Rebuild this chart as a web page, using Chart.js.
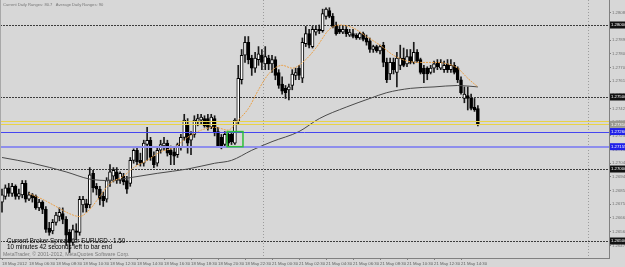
<!DOCTYPE html>
<html>
<head>
<meta charset="utf-8">
<script src="https://cdn.jsdelivr.net/npm/chart.js@4.4.1/dist/chart.umd.min.js"></script>
<style>
html, body { margin: 0; padding: 0; background: #d7d7d7; overflow: hidden; }
canvas { display: block; }
</style>
</head>
<body>
<canvas id="chart" width="625" height="267"></canvas>
<script>
// EURUSD M15, 18 May 2012 04:30 .. 21 May 2012 15:45
const opens = [1.2677,1.2681,1.2687,1.2683,1.2688,1.2681,1.2682,1.2690,1.2679,1.2682,
  1.2681,1.2673,1.2677,1.2672,1.2659,1.2657,1.2663,1.2667,1.2669,1.2665,
  1.2656,1.2649,1.2657,1.2656,1.2675,1.2676,1.2675,1.2697,1.2688,1.2686,
  1.2681,1.2679,1.2692,1.2695,1.2698,1.2692,1.2695,1.2692,1.2690,1.2706,
  1.2713,1.2706,1.2704,1.2717,1.2720,1.2709,1.2704,1.2713,1.2716,1.2718,
  1.2713,1.2712,1.2710,1.2715,1.2722,1.2731,1.2720,1.2724,1.2733,1.2734,
  1.2735,1.2735,1.2729,1.2735,1.2726,1.2722,1.2717,1.2724,1.2724,1.2718,
  1.2733,1.2762,1.2779,1.2788,1.2777,1.2770,1.2776,1.2779,1.2773,1.2777,
  1.2773,1.2776,1.2767,1.2759,1.2756,1.2755,1.2758,1.2765,1.2770,1.2763,
  1.2787,1.2794,1.2785,1.2795,1.2797,1.2796,1.2806,1.2810,1.2806,1.2800,
  1.2797,1.2795,1.2797,1.2793,1.2794,1.2793,1.2791,1.2794,1.2791,1.2789,
  1.2783,1.2785,1.2782,1.2786,1.2774,1.2766,1.2774,1.2767,1.2772,1.2777,
  1.2773,1.2778,1.2774,1.2781,1.2776,1.2770,1.2770,1.2767,1.2770,1.2774,
  1.2770,1.2769,1.2773,1.2769,1.2772,1.2770,1.2762,1.2749,1.2751,1.2749,
  1.2743,1.2742];
const highs = [1.2686,1.2689,1.2690,1.2690,1.2689,1.2686,1.2692,1.2692,1.2684,1.2683,
  1.2682,1.2679,1.2678,1.2674,1.2663,1.2665,1.2670,1.2673,1.2673,1.2667,
  1.2658,1.2661,1.2662,1.2681,1.2681,1.2679,1.2701,1.2699,1.2690,1.2688,
  1.2684,1.2694,1.2703,1.2701,1.2701,1.2698,1.2697,1.2695,1.2708,1.2714,
  1.2715,1.2711,1.2720,1.2729,1.2722,1.2712,1.2715,1.2720,1.2722,1.2720,
  1.2716,1.2715,1.2718,1.2724,1.2738,1.2735,1.2726,1.2737,1.2738,1.2738,
  1.2737,1.2738,1.2738,1.2737,1.2729,1.2724,1.2726,1.2726,1.2726,1.2735,
  1.2772,1.2783,1.2792,1.2792,1.2779,1.2781,1.2785,1.2783,1.2785,1.2779,
  1.2779,1.2778,1.2769,1.2764,1.2758,1.2759,1.2769,1.2770,1.2772,1.2791,
  1.2799,1.2797,1.2799,1.2799,1.2800,1.2811,1.2812,1.2812,1.2808,1.2802,
  1.2799,1.2799,1.2799,1.2797,1.2797,1.2794,1.2795,1.2795,1.2793,1.2791,
  1.2786,1.2786,1.2786,1.2788,1.2777,1.2777,1.2777,1.2781,1.2786,1.2784,
  1.2783,1.2783,1.2788,1.2783,1.2777,1.2772,1.2771,1.2772,1.2775,1.2776,
  1.2776,1.2775,1.2776,1.2776,1.2774,1.2771,1.2764,1.2757,1.2757,1.2752,
  1.2749,1.2744];
const lows = [1.2670,1.2679,1.2681,1.2681,1.2679,1.2679,1.2680,1.2677,1.2678,1.2677,
  1.2672,1.2671,1.2669,1.2656,1.2654,1.2655,1.2661,1.2664,1.2662,1.2647,
  1.2642,1.2647,1.2651,1.2654,1.2670,1.2670,1.2673,1.2684,1.2682,1.2675,
  1.2674,1.2677,1.2688,1.2691,1.2690,1.2690,1.2689,1.2683,1.2688,1.2704,
  1.2703,1.2702,1.2702,1.2706,1.2706,1.2701,1.2702,1.2711,1.2713,1.2709,
  1.2703,1.2703,1.2708,1.2713,1.2720,1.2711,1.2710,1.2722,1.2730,1.2731,
  1.2729,1.2727,1.2728,1.2723,1.2715,1.2714,1.2715,1.2716,1.2717,1.2717,
  1.2731,1.2759,1.2774,1.2773,1.2765,1.2767,1.2772,1.2769,1.2769,1.2769,
  1.2767,1.2762,1.2756,1.2752,1.2749,1.2748,1.2755,1.2762,1.2762,1.2760,
  1.2785,1.2784,1.2784,1.2793,1.2794,1.2795,1.2804,1.2805,1.2798,1.2793,
  1.2794,1.2794,1.2792,1.2792,1.2791,1.2790,1.2790,1.2789,1.2786,1.2781,
  1.2781,1.2781,1.2780,1.2771,1.2760,1.2762,1.2766,1.2757,1.2769,1.2771,
  1.2771,1.2773,1.2773,1.2774,1.2766,1.2760,1.2762,1.2766,1.2767,1.2769,
  1.2769,1.2767,1.2767,1.2767,1.2766,1.2760,1.2752,1.2746,1.2741,1.2741,
  1.2740,1.2730];
const closes = [1.2682,1.2687,1.2683,1.2688,1.2681,1.2683,1.2690,1.2679,1.2682,1.2680,
  1.2673,1.2677,1.2672,1.2658,1.2656,1.2663,1.2668,1.2670,1.2665,1.2654,
  1.2649,1.2658,1.2656,1.2679,1.2679,1.2673,1.2696,1.2687,1.2686,1.2679,
  1.2678,1.2692,1.2698,1.2699,1.2692,1.2697,1.2691,1.2686,1.2706,1.2713,
  1.2705,1.2704,1.2718,1.2720,1.2708,1.2703,1.2713,1.2717,1.2718,1.2711,
  1.2710,1.2709,1.2717,1.2722,1.2734,1.2718,1.2724,1.2734,1.2735,1.2736,
  1.2730,1.2729,1.2736,1.2725,1.2716,1.2715,1.2724,1.2718,1.2719,1.2734,
  1.2763,1.2779,1.2788,1.2776,1.2770,1.2777,1.2780,1.2774,1.2778,1.2773,
  1.2776,1.2765,1.2758,1.2754,1.2753,1.2757,1.2766,1.2767,1.2765,1.2788,
  1.2794,1.2786,1.2797,1.2797,1.2796,1.2808,1.2811,1.2806,1.2799,1.2794,
  1.2795,1.2797,1.2794,1.2795,1.2792,1.2791,1.2794,1.2790,1.2788,1.2783,
  1.2785,1.2782,1.2785,1.2774,1.2762,1.2774,1.2769,1.2777,1.2777,1.2772,
  1.2778,1.2774,1.2781,1.2775,1.2767,1.2766,1.2766,1.2770,1.2773,1.2771,
  1.2774,1.2772,1.2769,1.2772,1.2767,1.2762,1.2753,1.2752,1.2749,1.2742,
  1.2741,1.2731];

// moving averages, read at a few bars
const slowIdx = [0,9,19,26,32,38,46,55,63,68,74,80,88,94,102,109,114,121,128,135,141];
const slowVals = [1.2708,1.2704,1.2698,1.2693,1.2692,1.2694,1.2697,1.2700,1.2704,1.2706,
  1.2713,1.2719,1.2726,1.2735,1.2743,1.2749,1.2753,1.2756,1.2757,1.2758,1.2757];
const fastIdx = [8,12,16,20,23,26,29,32,36,39,43,47,51,55,59,63,67,70,73,76,79,83,86,90,93,
  97,100,104,108,112,116,120,124,128,132,135,138,141];
const fastVals = [1.2683,1.2679,1.2674,1.2669,1.2667,1.2672,1.2681,1.2690,1.2695,1.2701,
  1.2706,1.2712,1.2715,1.2722,1.2727,1.2729,1.2727,1.2734,1.2742,1.2755,1.2766,1.2772,
  1.2770,1.2776,1.2784,1.2797,1.2800,1.2798,1.2792,1.2786,1.2779,1.2775,1.2774,1.2774,
  1.2773,1.2770,1.2763,1.2757];

const timeIdx = [0,8,16,24,32,40,48,56,64,72,80,88,96,104,112,120,128,136];
const timeLabels = ['18 May 2012','18 May 06:30','18 May 08:30','18 May 10:30','18 May 12:30',
  '18 May 14:30','18 May 16:30','18 May 18:30','18 May 20:30','18 May 22:30','21 May 00:30',
  '21 May 02:30','21 May 04:30','21 May 06:30','21 May 08:30','21 May 10:30','21 May 12:30',
  '21 May 14:30'];
const priceTicks = [1.28085,1.27990,1.27895,1.27800,1.27705,1.27610,1.27515,1.27420,1.27325,
  1.27230,1.27135,1.27040,1.26945,1.26850,1.26755,1.26660,1.26565,1.26470];

// chart objects
const roundLevels = [1.2800, 1.2750, 1.2700, 1.2650];
const bidPrice = 1.27310;
const askPrice = 1.27335;
const blueLevels = [1.27260, 1.27155];
const boxBars = [66.7, 71.4];
const separators = [77.4, 173.6];

const overlay = {
  id: 'overlay',
  beforeDatasetsDraw(chart) {
    const {ctx, chartArea: a, scales: {x, y}} = chart;
    ctx.save();
    ctx.lineWidth = 1;
    ctx.strokeStyle = '#3c3c3c';
    ctx.setLineDash([2, 1]);
    roundLevels.forEach(p => {
      const py = Math.round(y.getPixelForValue(p)) + 0.5;
      ctx.beginPath(); ctx.moveTo(a.left, py); ctx.lineTo(a.right, py); ctx.stroke();
    });
    ctx.strokeStyle = '#9c9c9c';
    ctx.setLineDash([1, 2]);
    separators.forEach(v => {
      const px = Math.round(x.getPixelForValue(v)) + 0.5;
      ctx.beginPath(); ctx.moveTo(px, a.top); ctx.lineTo(px, a.bottom); ctx.stroke();
    });
    ctx.restore();
  },
  afterDatasetsDraw(chart) {
    const {ctx, chartArea: a, scales: {x, y}} = chart;
    ctx.save();
    ctx.lineWidth = 1;
    ctx.strokeStyle = '#e8d34a';
    [bidPrice, askPrice].forEach(p => {
      const py = Math.round(y.getPixelForValue(p)) + 0.5;
      ctx.beginPath(); ctx.moveTo(a.left, py); ctx.lineTo(a.right, py); ctx.stroke();
    });
    let py = Math.round(y.getPixelForValue(blueLevels[0])) + 0.5;
    ctx.strokeStyle = '#4646f0';
    ctx.beginPath(); ctx.moveTo(a.left, py); ctx.lineTo(a.right, py); ctx.stroke();
    py = Math.round(y.getPixelForValue(blueLevels[1]));
    ctx.lineWidth = 2;
    ctx.strokeStyle = '#8e8eec';
    ctx.beginPath(); ctx.moveTo(a.left, py); ctx.lineTo(a.right, py); ctx.stroke();
    // green rectangle
    const x0 = x.getPixelForValue(boxBars[0]), x1 = x.getPixelForValue(boxBars[1]);
    const y0 = y.getPixelForValue(blueLevels[0]), y1 = y.getPixelForValue(blueLevels[1]);
    ctx.strokeStyle = '#2fbf3a';
    ctx.lineWidth = 1.5;
    ctx.strokeRect(x0, y0, x1 - x0, y1 - y0);
    ctx.restore();
  },
  afterDraw(chart) {
    const {ctx, chartArea: a, scales: {y}} = chart;
    ctx.save();
    ctx.textBaseline = 'middle';
    const tag = (p, bg, fg) => {
      const py = y.getPixelForValue(p);
      ctx.fillStyle = bg;
      ctx.fillRect(a.right + 1, py - 3.5, 16, 7);
      ctx.fillStyle = fg;
      ctx.font = '4.3px "Liberation Sans"';
      ctx.textAlign = 'left';
      ctx.fillText(p.toFixed(5), a.right + 2, py);
    };
    roundLevels.forEach(p => tag(p, '#111111', '#ffffff'));
    tag(bidPrice, '#9a9a90', '#ffffff');
    tag(blueLevels[0], '#2020e8', '#ffffff');
    tag(blueLevels[1], '#2020e8', '#ffffff');

    ctx.textAlign = 'left';
    ctx.fillStyle = '#777777';
    ctx.font = '4.1px "Liberation Sans"';
    ctx.fillText('Current Daily Ranges: 80.7   Average Daily Ranges: 90', 3, 4.5);
    ctx.fillStyle = '#000000';
    ctx.font = '6.3px "Liberation Sans"';
    ctx.fillText('Current Broker Spread for EURUSD : 1.50', 7, 241.5);
    ctx.fillText('10 minutes 42 seconds left to bar end', 7, 247.5);
    ctx.fillStyle = '#7a7a7a';
    ctx.font = '5.2px "Liberation Sans"';
    ctx.fillText('MetaTrader, \u00a9 2001-2012, MetaQuotes Software Corp.', 3, 255);
    // left window border
    ctx.strokeStyle = '#a8a8a8';
    ctx.lineWidth = 1;
    ctx.beginPath(); ctx.moveTo(0.5, 0); ctx.lineTo(0.5, a.bottom); ctx.stroke();
    ctx.restore();
  }
};

const wickData = lows.map((v, i) => ({x: i, y: [v, highs[i]]}));
const bodyData = opens.map((v, i) => ({x: i, y: [v, closes[i]]}));

new Chart(document.getElementById('chart'), {
  type: 'bar',
  data: {
    datasets: [
      {
        type: 'line',
        data: fastIdx.map((v, i) => ({x: v, y: fastVals[i]})),
        borderColor: '#eaa048',
        borderWidth: 1,
        borderDash: [2, 1],
        pointRadius: 0,
        tension: 0.4,
        cubicInterpolationMode: 'monotone',
        order: 0
      },
      {
        type: 'line',
        data: slowIdx.map((v, i) => ({x: v, y: slowVals[i]})),
        borderColor: '#4a4a4a',
        borderWidth: 1,
        pointRadius: 0,
        tension: 0.4,
        cubicInterpolationMode: 'monotone',
        order: 0
      },
      {
        data: bodyData,
        grouped: false,
        barThickness: 3,
        minBarLength: 1,
        backgroundColor: c => closes[c.dataIndex] >= opens[c.dataIndex] ? '#ffffff' : '#000000',
        borderColor: '#000000',
        borderWidth: 1,
        borderSkipped: false,
        order: 1
      },
      {
        data: wickData,
        grouped: false,
        barThickness: 1,
        backgroundColor: '#1a1a1a',
        borderWidth: 0,
        order: 2
      }
    ]
  },
  options: {
    responsive: false,
    animation: false,
    devicePixelRatio: 1,
    events: [],
    layout: { padding: 0 },
    plugins: { legend: { display: false }, tooltip: { enabled: false } },
    scales: {
      x: {
        type: 'linear',
        min: -0.593,
        max: 179.85,
        offset: false,
        afterBuildTicks: axis => { axis.ticks = timeIdx.map(v => ({value: v})); },
        afterFit: axis => { axis.height = 9; axis.paddingLeft = 0; axis.paddingRight = 0; },
        ticks: {
          autoSkip: false,
          maxRotation: 0,
          minRotation: 0,
          align: 'start',
          padding: 1,
          color: '#5e5e5e',
          font: { family: 'Liberation Sans', size: 4.3 },
          callback: (v, i) => timeLabels[i]
        },
        grid: { drawOnChartArea: false, offset: false, tickLength: 2, color: '#808080' },
        border: { color: '#808080' }
      },
      y: {
        type: 'linear',
        position: 'right',
        min: 1.263821,
        max: 1.281736,
        afterBuildTicks: axis => { axis.ticks = priceTicks.map(v => ({value: v})); },
        afterFit: axis => { axis.width = 16; axis.paddingTop = 0; axis.paddingBottom = 0; },
        ticks: {
          autoSkip: false,
          padding: 1,
          color: '#707070',
          font: { family: 'Liberation Sans', size: 4.3 },
          callback: v => v.toFixed(5)
        },
        grid: { drawOnChartArea: false, tickLength: 2, color: '#808080' },
        border: { color: '#808080' }
      }
    }
  },
  plugins: [overlay]
});
</script>
</body>
</html>
